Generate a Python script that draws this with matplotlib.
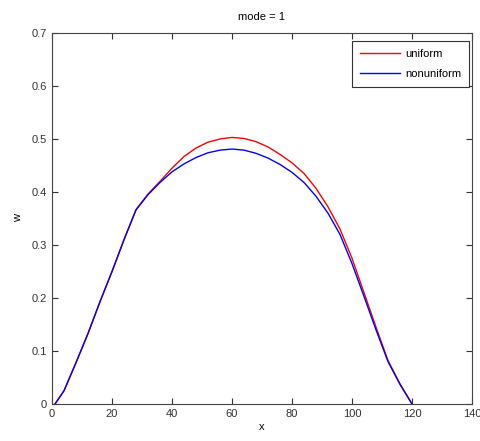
import matplotlib
matplotlib.use("Agg")
import matplotlib.pyplot as plt

x = [1, 4, 8, 12, 16, 20, 24, 28, 32, 36, 40, 44, 48, 52, 56, 60, 64, 68, 72, 76,
     80, 84, 88, 92, 96, 100, 104, 108, 112, 116, 120]
uniform = [0.0, 0.025, 0.078, 0.133, 0.193, 0.25, 0.31, 0.367, 0.396, 0.42, 0.445, 0.467,
           0.483, 0.494, 0.500, 0.503, 0.501, 0.495, 0.485, 0.471, 0.455, 0.435, 0.407,
           0.372, 0.33, 0.275, 0.21, 0.145, 0.082, 0.038, 0.0]
nonuniform = [0.0, 0.025, 0.078, 0.133, 0.193, 0.25, 0.31, 0.366, 0.395, 0.418, 0.438, 0.453,
              0.465, 0.474, 0.479, 0.481, 0.479, 0.473, 0.464, 0.452, 0.437, 0.418, 0.392,
              0.36, 0.32, 0.265, 0.203, 0.14, 0.08, 0.037, 0.0]

plt.rcParams['font.family'] = ['Liberation Sans', 'DejaVu Sans']
fig = plt.figure(figsize=(4.81, 4.41), dpi=100)
ax = fig.add_axes([52/481, 37/441, 420/481, 371/441])
ax.plot(x, uniform, color='#ff0000', lw=1.0, label='uniform')
ax.plot(x, nonuniform, color='#0000ff', lw=1.0, label='nonuniform')
ax.set_xlim(0, 140)
ax.set_ylim(0, 0.7)
ax.set_xticks(range(0, 141, 20))
ax.set_yticks([0, 0.1, 0.2, 0.3, 0.4, 0.5, 0.6, 0.7])
ax.set_yticklabels(['0', '0.1', '0.2', '0.3', '0.4', '0.5', '0.6', '0.7'])
ax.tick_params(direction='in', top=True, right=True, labelsize=8, colors='#333333', length=4)
for s in ax.spines.values():
    s.set_color('#444444')
    s.set_linewidth(0.8)
ax.set_title('mode = 1', fontsize=8, pad=9)
ax.set_xlabel('x', fontsize=8, labelpad=2)
ax.set_ylabel('w', fontsize=8, labelpad=6)
leg = ax.legend(loc='upper right', fontsize=8, fancybox=False, framealpha=1,
                edgecolor='#333333', handlelength=3.6, handletextpad=0.5,
                borderpad=0.7, labelspacing=0.9, borderaxespad=0,
                bbox_to_anchor=(417/420, 363/371))
leg.get_frame().set_linewidth(0.8)
fig.savefig('out.png', dpi=100)
